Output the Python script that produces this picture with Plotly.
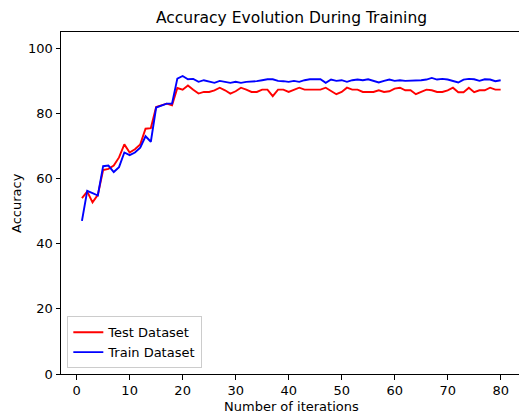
import plotly.graph_objects as go

iterations = list(range(1, 81))
test_acc = [54, 56, 52.7, 55, 62.6, 63, 64, 66.5, 70.5, 68,
            69, 70.5, 75.3, 75.5, 82, 82.5, 83, 82.5, 87.8, 87.3,
            88.6, 87.3, 86.1, 86.6, 86.6, 87.1, 87.9, 87.1, 86.1, 86.8,
            87.9, 87.3, 86.6, 86.6, 87.3, 87.3, 85.3, 87.3, 87.3, 86.6,
            87.3, 87.9, 87.3, 87.3, 87.3, 87.3, 87.9, 86.8, 85.9, 86.6,
            87.9, 87.3, 87.3, 86.6, 86.6, 86.6, 87.1, 86.6, 86.8, 87.6,
            87.9, 87.1, 87.1, 85.9, 86.6, 87.3, 87.1, 86.6, 86.6, 87.1,
            87.9, 86.5, 86.5, 87.9, 86.5, 87.1, 87.1, 87.9, 87.3, 87.3]
train_acc = [47, 56.2, 55.5, 54.8, 63.8, 64, 62, 63.5, 68, 67.2,
             68, 69.5, 73, 71.3, 81.8, 82.3, 83, 83, 90.7, 91.5,
             90.5, 90.6, 89.7, 90.2, 89.9, 89.4, 90, 89.7, 89.4, 89.7,
             89.4, 89.7, 89.7, 89.9, 90.2, 90.5, 90.5, 90, 89.9, 89.7,
             90, 89.7, 90.2, 90.5, 90.5, 90.5, 89.4, 90.4, 90, 90.2,
             89.7, 90.2, 90.4, 90.2, 90.5, 90, 89.5, 90, 90.4, 90,
             90.2, 90, 90, 90.2, 90.2, 90.4, 90.9, 90.4, 90.6, 90.4,
             90, 89.5, 90.4, 90.6, 90.5, 90, 90.5, 90.4, 89.9, 90.2]
x_ticks = [0, 10, 20, 30, 40, 50, 60, 70, 80]
y_ticks = [0, 20, 40, 60, 80, 100]

W, H = 519, 416
L, R, T, B = 61, 0, 32, 42
FONT = "DejaVu Sans"

fig = go.Figure()
fig.add_trace(go.Scatter(x=iterations, y=test_acc, mode="lines", name="Test Dataset",
                         line=dict(color="red", width=1.9)))
fig.add_trace(go.Scatter(x=iterations, y=train_acc, mode="lines", name="Train Dataset",
                         line=dict(color="blue", width=1.9)))

axis_common = dict(showgrid=False, zeroline=False, showline=True, linecolor="black",
                   linewidth=1, ticks="outside", ticklen=4.5, tickwidth=1, tickcolor="black",
                   tickfont=dict(family=FONT, size=13, color="black"))

fig.update_layout(
    width=W, height=H,
    margin=dict(l=L, r=R, t=T, b=B, pad=0),
    paper_bgcolor="white", plot_bgcolor="white",
    font=dict(family=FONT, size=13, color="black"),
    showlegend=True,
    legend=dict(x=0.0138, y=0.0167, xanchor="left", yanchor="bottom",
                bgcolor="rgba(255,255,255,0.8)", bordercolor="#cccccc", borderwidth=1,
                font=dict(family=FONT, size=13, color="black"),
                tracegroupgap=0, itemwidth=30),
    xaxis=dict(range=[-2.95, 83.46], tickvals=x_ticks, mirror=True, **axis_common),
    yaxis=dict(range=[0, 105], tickvals=y_ticks, mirror=False, **axis_common),
    annotations=[
        dict(text="Accuracy Evolution During Training", xref="paper", yref="paper",
             x=(291.5 - L) / (W - L), y=1 + 14 / (H - T - B), xanchor="center", yanchor="middle",
             showarrow=False, font=dict(family=FONT, size=15.5, color="black")),
        dict(text="Number of iterations", xref="paper", yref="paper",
             x=(291.5 - L) / (W - L), y=-32 / (H - T - B), xanchor="center", yanchor="middle",
             showarrow=False, font=dict(family=FONT, size=13, color="black")),
        dict(text="Accuracy", xref="paper", yref="paper", textangle=-90,
             x=-45 / (W - L), y=0.5, xanchor="center", yanchor="middle",
             showarrow=False, font=dict(family=FONT, size=13, color="black")),
    ],
)

fig.write_html("out.html")
